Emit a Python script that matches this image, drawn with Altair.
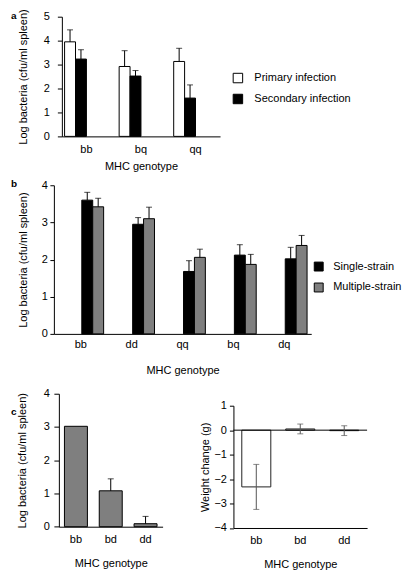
import altair as alt
import pandas as pd

FONT = "Liberation Sans"
GRAY = "#7f7f7f"

# ---------------- Panel a ----------------
a_genotypes = ["bb", "bq", "qq"]
a_groups = ["Primary infection", "Secondary infection"]
a_primary = [3.95, 2.92, 3.13]
a_primary_err = [0.50, 0.66, 0.55]
a_secondary = [3.23, 2.52, 1.60]
a_secondary_err = [0.39, 0.23, 0.55]

# ---------------- Panel b ----------------
b_genotypes = ["bb", "dd", "qq", "bq", "dq"]
b_groups = ["Single-strain", "Multiple-strain"]
b_single = [3.60, 2.95, 1.68, 2.12, 2.02]
b_single_err = [0.21, 0.18, 0.29, 0.28, 0.31]
b_multiple = [3.42, 3.10, 2.06, 1.87, 2.38]
b_multiple_err = [0.23, 0.31, 0.22, 0.27, 0.27]

# ---------------- Panel c ----------------
c_genotypes = ["bb", "bd", "dd"]
c_bacteria = [3.02, 1.08, 0.09]
c_bacteria_err = [0.0, 0.36, 0.22]
c_weight = [-2.32, 0.05, -0.02]
c_weight_err = [0.92, 0.20, 0.20]

X_TITLE = "MHC genotype"
Y_TITLE = "Log bacteria (cfu/ml spleen)"


def letter(txt, x, y):
    return alt.Chart(pd.DataFrame({"t": [txt]})).mark_text(
        align="left", baseline="middle", fontSize=10, fontWeight="bold",
        font=FONT, color="black"
    ).encode(text="t:N", x=alt.value(x), y=alt.value(y))


def hspacer(w):
    return alt.Chart(pd.DataFrame({"v": [0]})).mark_rule(color="white", strokeWidth=0.5).encode(
        x=alt.value(0), x2=alt.value(w), y=alt.value(0)).properties(width=w, height=1)


def vspacer(h):
    return alt.Chart(pd.DataFrame({"v": [0]})).mark_rule(color="white", strokeWidth=0.5).encode(
        x=alt.value(0), y=alt.value(0), y2=alt.value(h)).properties(width=1, height=h)


# ---------- a ----------
HA = 120
df_a = pd.DataFrame({
    "geno": a_genotypes * 2,
    "group": [a_groups[0]] * 3 + [a_groups[1]] * 3,
    "value": a_primary + a_secondary,
    "err": a_primary_err + a_secondary_err,
})
df_a["top"] = df_a["value"] + df_a["err"]

xa = alt.X("geno:N", sort=a_genotypes,
           scale=alt.Scale(type="band", paddingInner=0.2, paddingOuter=0.05),
           axis=alt.Axis(title=X_TITLE, labelAngle=0, ticks=False, labelPadding=7,
                         titleY=24))
xoa = alt.XOffset("group:N", sort=a_groups, scale=alt.Scale(type="band", domain=a_groups))
ya_scale = alt.Scale(domain=[0, 5], nice=False)
ya_axis = alt.Axis(title=Y_TITLE, values=[0, 1, 2, 3, 4, 5], tickSize=4.5,
                   labelPadding=8, titleX=-33.5, titleY=HA / 2)

bars_a = alt.Chart(df_a).mark_bar(stroke="black", strokeWidth=1).encode(
    x=xa, xOffset=xoa,
    y=alt.Y("value:Q", scale=ya_scale, axis=ya_axis),
    color=alt.Color("group:N", sort=a_groups,
                    scale=alt.Scale(domain=a_groups, range=["white", "black"]),
                    legend=alt.Legend(title=None, orient="none", legendX=224, legendY=56,
                                      symbolType="square", symbolSize=90,
                                      symbolStrokeColor="black", symbolStrokeWidth=1,
                                      labelOffset=11, rowPadding=6)),
)
err_a = alt.Chart(df_a).mark_rule(color="black", strokeWidth=1).encode(
    x=xa, xOffset=xoa,
    y=alt.Y("value:Q", scale=ya_scale, axis=ya_axis), y2="top:Q")
cap_a = alt.Chart(df_a).mark_tick(orient="horizontal", size=6, thickness=1, color="black").encode(
    x=xa, xOffset=xoa, y=alt.Y("top:Q", scale=ya_scale, axis=ya_axis))

panel_a = alt.layer(bars_a, err_a, cap_a, letter("a", -51, -1)).properties(width=158.6, height=HA)

# ---------- b ----------
df_b = pd.DataFrame({
    "geno": b_genotypes * 2,
    "group": [b_groups[0]] * 5 + [b_groups[1]] * 5,
    "value": b_single + b_multiple,
    "err": b_single_err + b_multiple_err,
})
df_b["top"] = df_b["value"] + df_b["err"]

xb = alt.X("geno:N", sort=b_genotypes,
           scale=alt.Scale(type="band", paddingInner=0.18, paddingOuter=0.12),
           axis=alt.Axis(title=X_TITLE, labelAngle=0, ticks=False, labelPadding=5,
                         titleY=31))
xob = alt.XOffset("group:N", sort=b_groups, scale=alt.Scale(type="band", domain=b_groups))
yb_scale = alt.Scale(domain=[0, 4], nice=False)
yb_axis = alt.Axis(title=Y_TITLE, values=[0, 1, 2, 3, 4], tickSize=4,
                   labelPadding=2.5, titleX=-25, titleY=74.5)

bars_b = alt.Chart(df_b).mark_bar(stroke="black", strokeWidth=1).encode(
    x=xb, xOffset=xob,
    y=alt.Y("value:Q", scale=yb_scale, axis=yb_axis),
    color=alt.Color("group:N", sort=b_groups,
                    scale=alt.Scale(domain=b_groups, range=["black", GRAY]),
                    legend=alt.Legend(title=None, orient="none", legendX=305, legendY=76,
                                      symbolType="square", symbolSize=80,
                                      symbolStrokeColor="black", symbolStrokeWidth=1,
                                      labelOffset=9, rowPadding=8)),
)
err_b = alt.Chart(df_b).mark_rule(color="black", strokeWidth=1).encode(
    x=xb, xOffset=xob,
    y=alt.Y("value:Q", scale=yb_scale, axis=yb_axis), y2="top:Q")
cap_b = alt.Chart(df_b).mark_tick(orient="horizontal", size=6, thickness=1, color="black").encode(
    x=xb, xOffset=xob, y=alt.Y("top:Q", scale=yb_scale, axis=yb_axis))

panel_b = alt.layer(bars_b, err_b, cap_b, letter("b", -43, -1)).properties(width=258, height=149)

# ---------- c left ----------
df_cl = pd.DataFrame({"geno": c_genotypes, "value": c_bacteria, "err": c_bacteria_err})
df_cl["top"] = df_cl["value"] + df_cl["err"]
df_cl_err = df_cl[df_cl["err"] > 0]

xcl = alt.X("geno:N", sort=c_genotypes,
            scale=alt.Scale(type="band", paddingInner=0.34, paddingOuter=0.16),
            axis=alt.Axis(title=X_TITLE, labelAngle=0, ticks=False, labelPadding=7,
                          titleY=31))
ycl_scale = alt.Scale(domain=[0, 4], nice=False)
ycl_axis = alt.Axis(title=Y_TITLE, values=[0, 1, 2, 3, 4], tickSize=5,
                    labelPadding=4.5, titleX=-31.5, titleY=66.7)

bars_cl = alt.Chart(df_cl).mark_bar(stroke="black", strokeWidth=1, color=GRAY).encode(
    x=xcl, y=alt.Y("value:Q", scale=ycl_scale, axis=ycl_axis))
err_cl = alt.Chart(df_cl_err).mark_rule(color="black", strokeWidth=1).encode(
    x=xcl, y=alt.Y("value:Q", scale=ycl_scale, axis=ycl_axis), y2="top:Q")
cap_cl = alt.Chart(df_cl_err).mark_tick(orient="horizontal", size=6, thickness=1, color="black").encode(
    x=xcl, y=alt.Y("top:Q", scale=ycl_scale, axis=ycl_axis))

c_left = alt.layer(bars_cl, err_cl, cap_cl, letter("c", -48, 18)).properties(width=104, height=133.3)

# ---------- c right ----------
df_cr = pd.DataFrame({"geno": c_genotypes, "value": c_weight, "err": c_weight_err})
df_cr["lo"] = df_cr["value"] - df_cr["err"]
df_cr["hi"] = df_cr["value"] + df_cr["err"]

xcr = alt.X("geno:N", sort=c_genotypes,
            scale=alt.Scale(type="band", paddingInner=0.34, paddingOuter=0.19),
            axis=alt.Axis(title=X_TITLE, labelAngle=0, ticks=False, labelPadding=7,
                          titleY=31))
ycr_scale = alt.Scale(domain=[-4, 1], nice=False)
ycr_axis = alt.Axis(title="Weight change (g)", values=[-4, -3, -2, -1, 0, 1], tickSize=4,
                    labelPadding=3, titleX=-22.8, titleY=61.3)

bars_cr = alt.Chart(df_cr).mark_bar(stroke="#222222", strokeWidth=1, fill="white").encode(
    x=xcr, y=alt.Y("value:Q", scale=ycr_scale, axis=ycr_axis))
zero_cr = alt.Chart(pd.DataFrame({"z": [0]})).mark_rule(color="black", strokeWidth=1).encode(
    y=alt.Y("z:Q", scale=ycr_scale, axis=ycr_axis))
err_cr = alt.Chart(df_cr).mark_rule(color="#555555", strokeWidth=1).encode(
    x=xcr, y=alt.Y("lo:Q", scale=ycr_scale, axis=ycr_axis), y2="hi:Q")
caphi_cr = alt.Chart(df_cr).mark_tick(orient="horizontal", size=6, thickness=1, color="#555555").encode(
    x=xcr, y=alt.Y("hi:Q", scale=ycr_scale, axis=ycr_axis))
caplo_cr = alt.Chart(df_cr).mark_tick(orient="horizontal", size=6, thickness=1, color="#555555").encode(
    x=xcr, y=alt.Y("lo:Q", scale=ycr_scale, axis=ycr_axis))

c_right = alt.layer(bars_cr, zero_cr, err_cr, caphi_cr, caplo_cr).properties(
    width=134, height=122.6)

# ---------- layout ----------
# A 1px spacer in the first column lets each panel keep its own left edge.
row_a = alt.hconcat(hspacer(1), panel_a, spacing=0)
row_b = alt.hconcat(hspacer(1), panel_b, spacing=0)
g_cr = alt.vconcat(vspacer(5), c_right, spacing=0)
c_pair = alt.hconcat(c_left, g_cr, spacing=37).resolve_scale(color="independent")
row_c = alt.hconcat(hspacer(1), c_pair, spacing=0)

top = alt.vconcat(row_a, row_b, spacing=8).resolve_scale(
    color="independent").resolve_legend(color="independent")

chart = alt.vconcat(top, row_c, spacing=12).resolve_scale(
    color="independent").resolve_legend(color="independent").properties(
    padding=0, background="white"
).configure_view(stroke=None).configure_axis(
    domainColor="black", tickColor="black", labelColor="black", titleColor="black",
    grid=False, labelFont=FONT, titleFont=FONT, labelFontSize=11, titleFontSize=11,
    titleFontWeight="normal", domainWidth=1, tickWidth=1
).configure_legend(
    labelFont=FONT, labelFontSize=11, labelColor="black", padding=0
)

chart.save("out.html", embed_options={"renderer": "svg", "actions": False})
